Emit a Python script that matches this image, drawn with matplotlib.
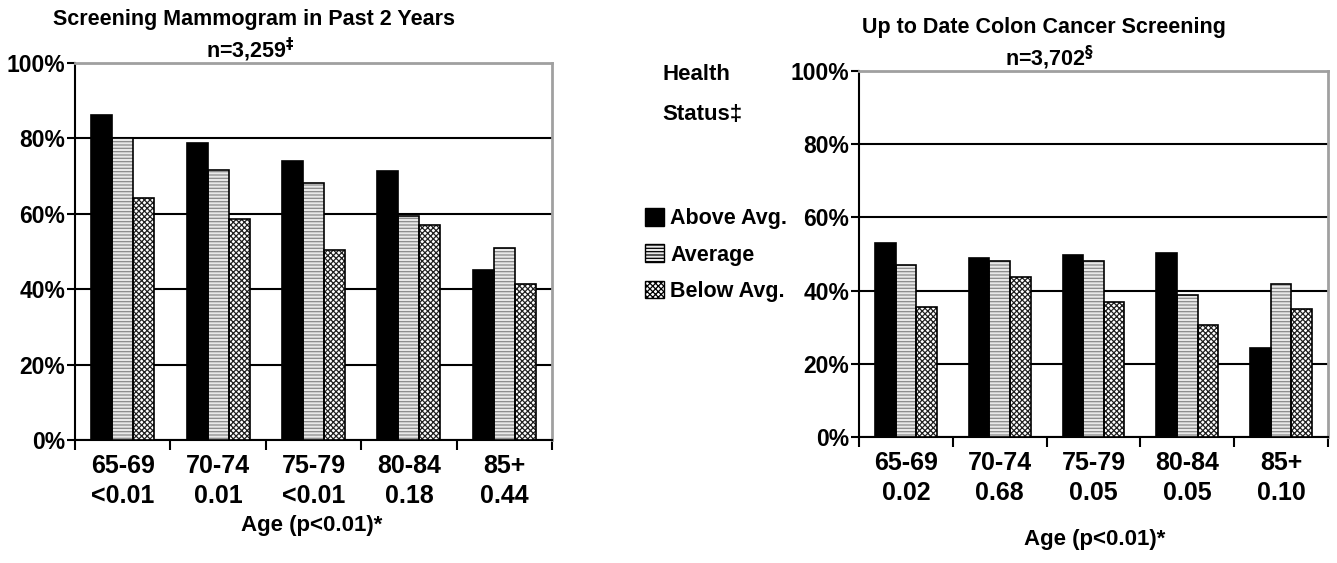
import numpy as np
import matplotlib.pyplot as plt
from matplotlib.ticker import FixedLocator, PercentFormatter
from matplotlib.patches import Patch

plt.rcParams['font.family'] = ['Liberation Sans', 'DejaVu Sans']
plt.rcParams['font.weight'] = 'bold'
plt.rcParams['hatch.linewidth'] = 0.9

ages = ['65-69', '70-74', '75-79', '80-84', '85+']
series = ['Above Avg.', 'Average', 'Below Avg.']

mammo_p = ['<0.01', '0.01', '<0.01', '0.18', '0.44']
mammo_above = [86.2, 78.8, 74.0, 71.4, 45.0]
mammo_avg = [80.0, 71.7, 68.3, 59.3, 50.8]
mammo_below = [64.3, 58.5, 50.5, 57.1, 41.3]

colon_p = ['0.02', '0.68', '0.05', '0.05', '0.10']
colon_above = [53.1, 49.0, 49.6, 50.4, 24.4]
colon_avg = [47.1, 48.0, 48.0, 38.7, 41.7]
colon_below = [35.4, 43.6, 36.8, 30.5, 35.1]

# fill, hatch colour, hatch
styles = [('black', 'black', None),
          ('#e8e8e8', '#8a8a8a', '-----'),
          ('white', '#202020', 'xxxxxx')]

fig = plt.figure(figsize=(13.37, 5.63), dpi=100)


def draw(ax, vals, pvals):
    x = np.arange(len(ages))
    w = 0.22
    for k, (v, (fc, hc, h)) in enumerate(zip(vals, styles)):
        pos = x + (k - 1) * w
        ax.bar(pos, v, w, color=fc, edgecolor=hc, hatch=h, linewidth=0, zorder=3)
        ax.bar(pos, v, w, fill=False, edgecolor='black', linewidth=1.2, zorder=4)
    ax.set_xlim(-0.5, len(ages) - 0.5)
    ax.set_ylim(0, 100)
    ax.yaxis.set_major_locator(FixedLocator([0, 20, 40, 60, 80, 100]))
    ax.yaxis.set_major_formatter(PercentFormatter(decimals=0))
    ax.grid(axis='y', color='black', linewidth=1.5, zorder=1)
    ax.xaxis.set_major_locator(FixedLocator(np.arange(-0.5, len(ages), 1.0)))
    ax.xaxis.set_minor_locator(FixedLocator(x))
    ax.set_xticklabels([])
    ax.set_xticklabels([a + '\n' + p for a, p in zip(ages, pvals)], minor=True,
                       fontsize=18, fontweight='bold', linespacing=1.3)
    ax.tick_params(axis='x', which='major', length=7, width=1.5, direction='out')
    ax.tick_params(axis='x', which='minor', length=0, pad=10)
    ax.tick_params(axis='y', length=6, width=1.5, labelsize=16.5, pad=1)
    for lab in ax.get_yticklabels():
        lab.set_fontweight('bold')
    for s in ['left', 'bottom']:
        ax.spines[s].set_linewidth(1.5)
        ax.spines[s].set_color('black')
    for s in ['top', 'right']:
        ax.spines[s].set_linewidth(2)
        ax.spines[s].set_color('#a0a0a0')


ax1 = fig.add_axes([75 / 1337, 1 - 440 / 563, 477 / 1337, 377 / 563])
draw(ax1, [mammo_above, mammo_avg, mammo_below], mammo_p)

ax2 = fig.add_axes([859 / 1337, 1 - 437 / 563, 469 / 1337, 366 / 563])
draw(ax2, [colon_above, colon_avg, colon_below], colon_p)

fig.text(254 / 1337, 1 - 20 / 563, 'Screening Mammogram in Past 2 Years',
         ha='center', va='center', fontsize=15.5, fontweight='bold')
fig.text(250 / 1337, 1 - 50 / 563, 'n=3,259$^{\u2021}$',
         ha='center', va='center', fontsize=15.5, fontweight='bold')
fig.text(312 / 1337, 1 - 525 / 563, 'Age (p<0.01)*',
         ha='center', va='center', fontsize=16, fontweight='bold')

fig.text(1044 / 1337, 1 - 28 / 563, 'Up to Date Colon Cancer Screening',
         ha='center', va='center', fontsize=15.5, fontweight='bold')
fig.text(1050 / 1337, 1 - 58 / 563, 'n=3,702$^{\u00a7}$',
         ha='center', va='center', fontsize=15.5, fontweight='bold')
fig.text(1095 / 1337, 1 - 540 / 563, 'Age (p<0.01)*',
         ha='center', va='center', fontsize=16, fontweight='bold')

fig.text(662 / 1337, 1 - 75 / 563, 'Health', ha='left', va='center',
         fontsize=16, fontweight='bold')
fig.text(662 / 1337, 1 - 115 / 563, 'Status\u2021', ha='left', va='center',
         fontsize=16, fontweight='bold')

handles = [Patch(facecolor=fc, edgecolor='black', hatch=h, linewidth=1)
           for fc, hc, h in styles]
fig.legend(handles, series, loc='center left', bbox_to_anchor=(626 / 1337, 1 - 255 / 563),
           frameon=False, prop={'size': 15.5, 'weight': 'bold'},
           handlelength=0.85, handleheight=0.85, handletextpad=0.3, labelspacing=0.7)

fig.savefig('out.png', dpi=100)
